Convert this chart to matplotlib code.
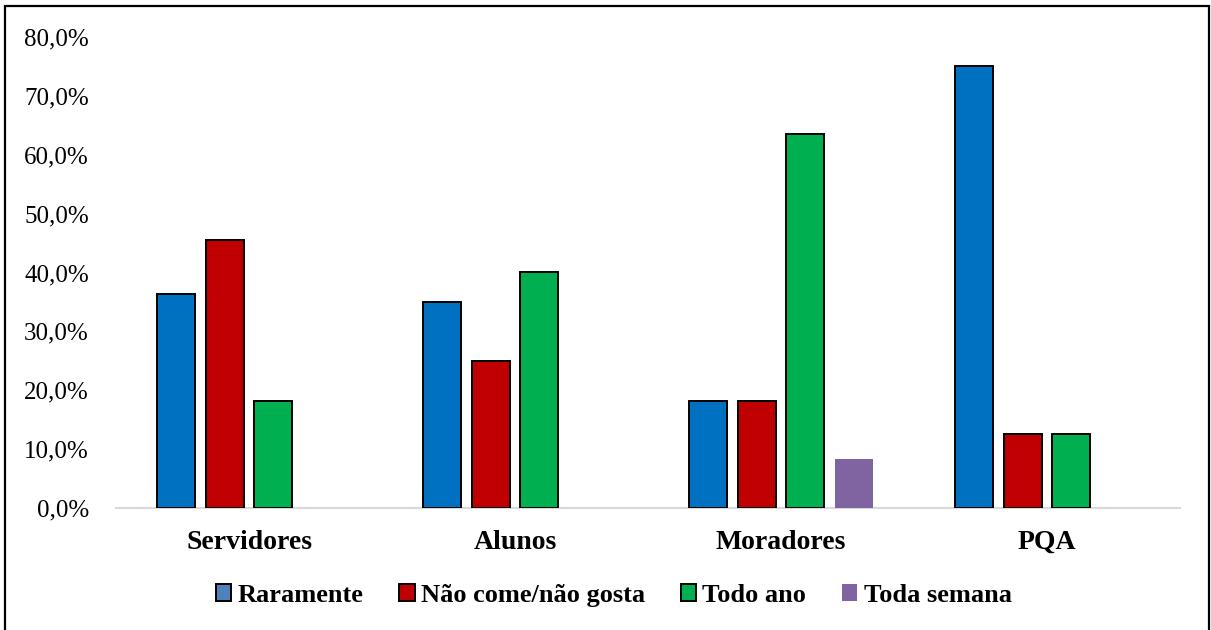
import matplotlib.pyplot as plt
import matplotlib.patches as mpatches
from matplotlib.ticker import FuncFormatter, MultipleLocator
import numpy as np

# data (percent)
categorias = ['Servidores', 'Alunos', 'Moradores', 'PQA']
series = ['Raramente', 'Não come/não gosta', 'Todo ano', 'Toda semana']
raramente = [36.4, 35.0, 18.2, 75.0]
nao_come = [45.5, 25.0, 18.2, 12.5]
todo_ano = [18.2, 40.0, 63.6, 12.5]
toda_semana = [0.0, 0.0, 8.3, 0.0]

valores = [raramente, nao_come, todo_ano, toda_semana]
cores = ['#0070C0', '#C00000', '#00B050', '#8064A2']
bordas = ['black', 'black', 'black', 'none']

plt.rcParams['font.family'] = ['Liberation Serif', 'DejaVu Serif']

fig = plt.figure(figsize=(12.11, 6.30), dpi=100)
ax = fig.add_axes([0.0958, 0.1937, 0.8786, 0.7476])

x = np.arange(len(categorias))
passo = 0.182
largura = 0.143
for i, (nome, vals) in enumerate(zip(series, valores)):
    pos = x + (i - 1.5) * passo
    vals = np.array(vals)
    mask = vals > 0
    ax.bar(pos[mask], vals[mask], largura, color=cores[i], edgecolor=bordas[i],
           linewidth=1.4, zorder=2)

ax.set_xlim(-0.5, len(categorias) - 0.5)
ax.set_ylim(0, 80)
ax.yaxis.set_major_locator(MultipleLocator(10))
ax.yaxis.set_major_formatter(FuncFormatter(lambda v, p: f'{v:.1f}%'.replace('.', ',')))
ax.set_xticks(x)
ax.set_xticklabels(categorias, fontsize=20, fontweight='bold')
ax.tick_params(axis='y', length=0, pad=19.5, labelsize=18)
ax.tick_params(axis='x', length=0, pad=16)

for s in ['left', 'top', 'right']:
    ax.spines[s].set_visible(False)
ax.spines['bottom'].set_color('#d9d9d9')
ax.spines['bottom'].set_linewidth(1.5)
ax.spines['bottom'].set_zorder(1)

handles = [mpatches.Patch(facecolor=c, edgecolor=e, linewidth=1.4, label=n)
           for c, e, n in zip(['#4F81BD', '#C00000', '#00B050', '#8064A2'], bordas, series)]
fig.legend(handles=handles, loc='center', bbox_to_anchor=(0.507, 0.055), ncol=4,
           frameon=False, prop={'size': 19, 'weight': 'bold'},
           handlelength=0.57, handleheight=0.57, handletextpad=0.25,
           columnspacing=1.35)

# moldura da figura
moldura = mpatches.Rectangle((0.004, -0.02), 0.994, 1.011, transform=fig.transFigure,
                             fill=False, edgecolor='black', linewidth=1.6)
fig.patches.append(moldura)

fig.savefig('out.png', dpi=100)
